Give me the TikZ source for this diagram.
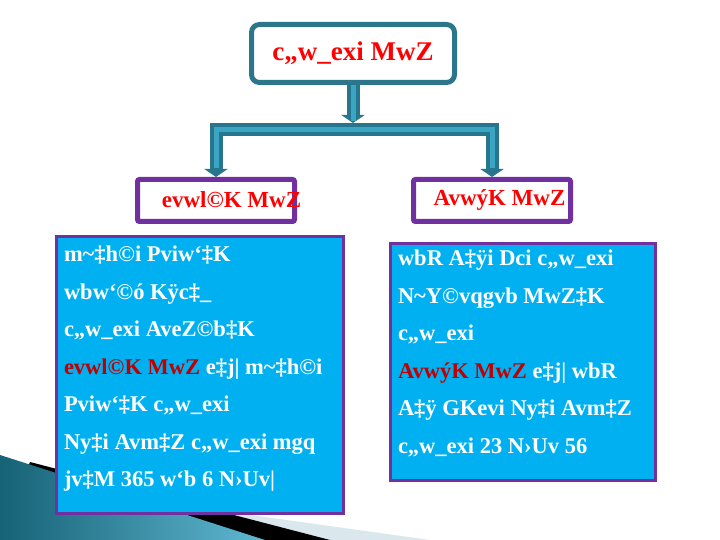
\documentclass[tikz,border=0pt]{standalone}
\usepackage{fontspec}
\setmainfont{Liberation Serif}
\usepackage{xcolor}
\usepackage{tikz}
\usetikzlibrary{arrows.meta}
\definecolor{titleteal}{RGB}{44,118,140}
\definecolor{pipedark}{RGB}{40,118,142}
\definecolor{pipelight}{RGB}{58,166,196}
\definecolor{boxpurple}{RGB}{112,48,160}
\definecolor{boxblue}{RGB}{0,176,240}
\definecolor{headred}{RGB}{255,0,0}
\definecolor{darkred}{RGB}{192,0,0}
\definecolor{swoopdark}{RGB}{22,98,118}
\definecolor{swooplight}{RGB}{96,184,210}
\definecolor{swoopgrey}{RGB}{218,232,238}

\begin{document}
\begin{tikzpicture}[
    x=1pt, y=-1pt,
    titlebox/.style={rectangle, draw=titleteal, line width=5pt, rounded corners=8pt, minimum width=203pt, minimum height=58pt, text=headred, font=\fontsize{27}{30}\selectfont\bfseries},
    kindbox/.style={rectangle, draw=boxpurple, line width=5pt, rounded corners=2pt, fill=white, minimum width=157pt, minimum height=42pt},
    kindtext/.style={text=headred, font=\fontsize{23}{26}\selectfont\bfseries},
    bodybox/.style={rectangle, draw=boxpurple, line width=3pt, fill=boxblue, anchor=north west, inner xsep=8pt, inner ysep=10pt, text=white, font=\fontsize{22.5}{37.5}\selectfont\bfseries},
    pipe/.style={draw=pipedark, line width=13pt, -{Triangle[length=8pt, width=23pt]}, postaction={draw=pipelight, line width=5pt, shorten >=9pt, -}}
]
\useasboundingbox (0,0) rectangle (720,540);
\fill[swoopgrey] (0,480) -- (430,540) -- (0,540) -- cycle;
\fill[black] (30,462) -- (330,540) -- (0,540) -- cycle;
\shade[left color=swoopdark, right color=swooplight] (0,455) -- (265,540) -- (0,540) -- cycle;

\node[titlebox] (motion) at (353,53.5) {c„w\_exi MwZ};
\node[kindbox] (yearly) at (216,200.5) {};
\node[kindtext] (yearlytext) at (231.5,200) {evwl©K MwZ};
\node[kindbox] (daily) at (492,200.5) {};
\node[kindtext] (dailytext) at (499.5,200) {AvwýK MwZ};

\coordinate (fork) at (353,130);
\draw[pipe, shorten >=7pt] (motion.south) -- (fork);
\draw[pipe] (fork) -| (yearly.north);
\draw[pipe] (fork) -| (daily.north);

\node[bodybox] (yearlybody) at (54.5,234.5) {\parbox[t][257pt][t]{271pt}{%
m\textasciitilde‡h©i Pviw`‡K\\
wbw`©ó Kÿc‡\_\\
c„w\_exi AveZ©b‡K\\
{\color{darkred}evwl©K MwZ} e‡j| m\textasciitilde‡h©i\\
Pviw`‡K c„w\_exi\\
Ny‡i Avm‡Z c„w\_exi mgq\\
jv‡M 365 w`b 6 N›Uv|}};
\node[bodybox, inner ysep=7pt] (dailybody) at (388.5,241.5) {\parbox[t][223pt][t]{249pt}{%
wbR A‡ÿi Dci c„w\_exi\\
N\textasciitilde Y©vqgvb MwZ‡K\\
c„w\_exi\\
{\color{darkred}AvwýK MwZ} e‡j| wbR\\
A‡ÿ GKevi Ny‡i Avm‡Z\\
c„w\_exi 23 N›Uv 56}};
\end{tikzpicture}
\end{document}
